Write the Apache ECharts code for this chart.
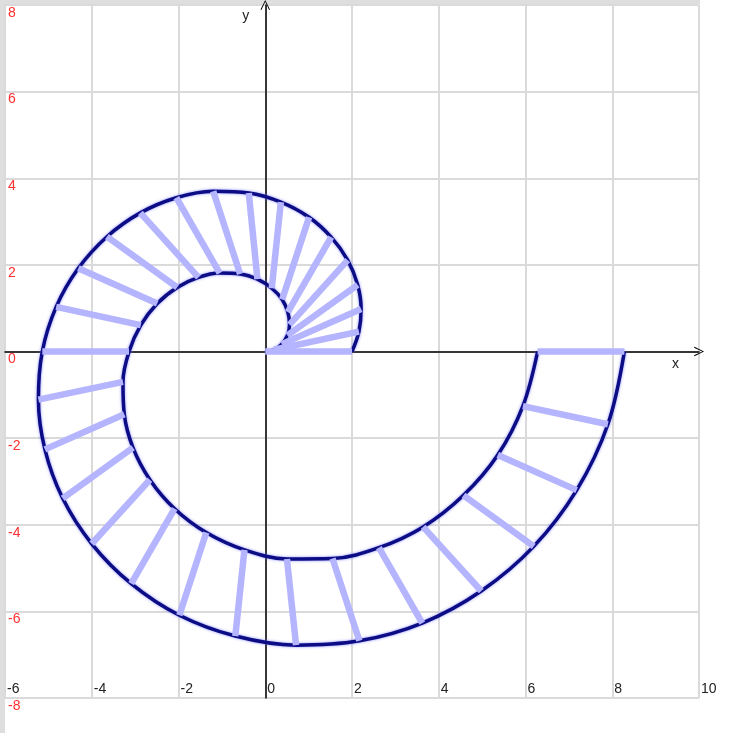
<!DOCTYPE html>
<html>
<head>
<meta charset="utf-8">
<script src="https://cdn.jsdelivr.net/npm/echarts@6/dist/echarts.min.js"></script>
<style>
html,body{margin:0;padding:0;background:#fff;}
#chart{width:729px;height:733px;}
</style>
</head>
<body>
<div id="chart"></div>
<script>
// x tick labels and y tick labels
var xTicks = [-6, -4, -2, 0, 2, 4, 6, 8, 10];
var yTicks = [-8, -6, -4, -2, 0, 2, 4, 6, 8];

// inner spiral points, every 12 degrees
var innerX = [0, 0.20, 0.38, 0.51, 0.56, 0.52, 0.39, 0.15, -0.18, -0.58, -1.05, -1.54, -2.03, -2.49, -2.87, -3.14,
  -3.28, -3.25, -3.05, -2.66, -2.09, -1.36, -0.48, 0.50, 1.55, 2.62, 3.64, 4.57, 5.36, 5.94, 6.28];
var innerY = [0, 0.04, 0.17, 0.37, 0.62, 0.91, 1.20, 1.46, 1.67, 1.79, 1.81, 1.71, 1.48, 1.11, 0.61, 0,
  -0.70, -1.45, -2.22, -2.96, -3.63, -4.18, -4.58, -4.79, -4.78, -4.53, -4.05, -3.32, -2.39, -1.26, 0];

// outer spiral points
var outerX = [2, 2.16, 2.21, 2.13, 1.90, 1.52, 1.01, 0.36, -0.38, -1.20, -2.05, -2.88, -3.65, -4.31, -4.82, -5.14,
  -5.23, -5.08, -4.67, -4.00, -3.09, -1.98, -0.69, 0.71, 2.17, 3.62, 4.98, 6.19, 7.18, 7.90, 8.28];
var outerY = [0, 0.46, 0.98, 1.54, 2.11, 2.64, 3.10, 3.45, 3.66, 3.70, 3.55, 3.20, 2.65, 1.92, 1.03, 0,
  -1.11, -2.26, -3.39, -4.44, -5.36, -6.09, -6.57, -6.78, -6.68, -6.27, -5.53, -4.50, -3.20, -1.68, 0];

var innerPts = innerX.map(function (x, i) { return [x, innerY[i]]; });
var outerPts = outerX.map(function (x, i) { return [x, outerY[i]]; });
var rungs = innerPts.map(function (p, i) { return { coords: [p, outerPts[i]] }; });

var chevron = 'path://M0,10 L5,0 L10,10 L9.1,10.6 L5,1.9 L0.9,10.6 Z';
var gridColor = '#dadada';
var font = '"Liberation Sans", Arial, sans-serif';
var curveStyle = { color: '#0c0c84', width: 3.5, shadowBlur: 3, shadowColor: 'rgba(110,110,255,0.8)' };

var chart = echarts.init(document.getElementById('chart'), null, { renderer: 'canvas' });
chart.setOption({
  animation: false,
  backgroundColor: '#ffffff',
  graphic: [
    { type: 'rect', left: 0, top: 0, shape: { width: 5, height: 733 }, style: { fill: '#dedede' }, z: 0 },
    { type: 'rect', left: 0, top: 0, shape: { width: 700, height: 4 }, style: { fill: '#dedede' }, z: 0 }
  ],
  grid: { left: 5, top: 5, width: 694, height: 693, containLabel: false },
  xAxis: [
    {
      type: 'value', min: xTicks[0], max: xTicks[xTicks.length - 1], interval: 2, position: 'bottom',
      axisLine: { show: false }, axisTick: { show: false },
      splitLine: { show: true, showMinLine: true, showMaxLine: true, lineStyle: { color: gridColor, width: 2 } },
      axisLabel: { inside: true, align: 'left', verticalAlign: 'bottom', margin: 2, padding: [0, 0, 0, 2],
        color: '#222', fontSize: 14, fontFamily: font, showMinLabel: true, showMaxLabel: true,
        formatter: function (v) { return xTicks.indexOf(v) >= 0 ? String(v) : ''; } }
    },
    {
      type: 'value', min: xTicks[0], max: xTicks[xTicks.length - 1], interval: 2, position: 'bottom',
      axisLine: { show: true, onZero: true, onZeroAxisIndex: 0, symbol: ['none', chevron], symbolSize: [17, 10],
        lineStyle: { color: '#000', width: 1.5 } },
      axisTick: { show: false }, splitLine: { show: false }, axisLabel: { show: false },
      name: 'x', nameLocation: 'end', nameGap: -27,
      nameTextStyle: { color: '#222', fontSize: 14, fontFamily: font, align: 'left', verticalAlign: 'top', padding: [6, 0, 0, 0] }
    }
  ],
  yAxis: [
    {
      type: 'value', min: yTicks[0], max: yTicks[yTicks.length - 1], interval: 2, position: 'left',
      axisLine: { show: false }, axisTick: { show: false },
      splitLine: { show: true, showMinLine: true, showMaxLine: true, lineStyle: { color: gridColor, width: 2 } },
      axisLabel: { inside: true, align: 'left', verticalAlign: 'top', margin: 3, padding: [1, 0, 0, 0],
        color: '#ff3030', fontSize: 14, fontFamily: font, showMinLabel: true, showMaxLabel: true,
        formatter: function (v) { return yTicks.indexOf(v) >= 0 ? String(v) : ''; } }
    },
    {
      type: 'value', min: yTicks[0], max: yTicks[yTicks.length - 1], interval: 2, position: 'left',
      axisLine: { show: true, onZero: true, onZeroAxisIndex: 0, symbol: ['none', chevron], symbolSize: [17, 10],
        lineStyle: { color: '#000', width: 1.5 } },
      axisTick: { show: false }, splitLine: { show: false }, axisLabel: { show: false },
      name: 'y', nameLocation: 'end', nameGap: -18,
      nameTextStyle: { color: '#222', fontSize: 14, fontFamily: font, align: 'right', verticalAlign: 'bottom', padding: [0, 16, 0, 0] }
    }
  ],
  series: [
    {
      type: 'line', xAxisIndex: 0, yAxisIndex: 0, data: innerPts, smooth: 0.35, showSymbol: false, symbol: 'none',
      lineStyle: curveStyle, z: 3
    },
    {
      type: 'line', xAxisIndex: 0, yAxisIndex: 0, data: outerPts, smooth: 0.35, showSymbol: false, symbol: 'none',
      lineStyle: curveStyle, z: 3
    },
    {
      type: 'lines', coordinateSystem: 'cartesian2d', xAxisIndex: 0, yAxisIndex: 0, data: rungs, polyline: false,
      lineStyle: { color: '#b4b4ff', width: 6.5, opacity: 1, cap: 'butt' }, z: 4
    }
  ]
});
</script>
</body>
</html>
